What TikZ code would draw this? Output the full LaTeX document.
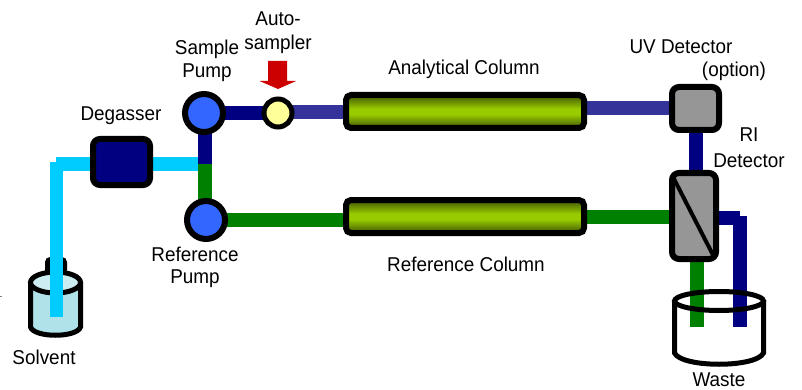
\documentclass[tikz,border=0pt]{standalone}
\usepackage{fontspec}
\setmainfont[FakeStretch=0.945]{Liberation Sans}
\usetikzlibrary{backgrounds}
\pgfdeclarelayer{bottle}
\pgfsetlayers{bottle,background,main}
\definecolor{cyanpipe}{HTML}{00CCFF}
\definecolor{navypipe}{HTML}{000080}
\definecolor{greenpipe}{HTML}{008000}
\definecolor{indigopipe}{HTML}{333399}
\definecolor{pumpblue}{HTML}{3366FF}
\definecolor{devgray}{HTML}{969696}
\definecolor{colgreen}{HTML}{99CC00}
\definecolor{coldark}{HTML}{3F5500}
\definecolor{redarrow}{HTML}{CC0000}
\definecolor{liquid}{HTML}{B0E2EA}
\definecolor{liquidtop}{HTML}{CCEEF3}
\definecolor{samplecol}{HTML}{FFFF99}
\pgfdeclareverticalshading{colshade}{100bp}{color(0bp)=(coldark); color(25bp)=(coldark); color(46bp)=(colgreen); color(54bp)=(colgreen); color(75bp)=(coldark); color(100bp)=(coldark)}
\tikzset{
  lbl/.style={font=\fontsize{20}{20}\selectfont,inner sep=0pt,text=black,yshift=-1pt},
  pipe/.style={line width=14pt},
  devbox/.style={draw=black,line width=6pt,rounded corners=7pt,inner sep=0pt},
  pumpnode/.style={circle,draw=black,line width=6pt,fill=pumpblue,minimum size=38pt,inner sep=0pt},
  columnbox/.style={draw=black,line width=6pt,rounded corners=5pt,inner sep=0pt,minimum width=238pt,minimum height=33pt,
     shading=colshade},
  rim/.style={draw=black,line width=5pt}
}
\begin{document}
\begin{tikzpicture}[x=1pt,y=-1pt]
\useasboundingbox (0,0) rectangle (802,390);
% devices
\node[devbox,fill=navypipe,minimum width=57pt,minimum height=46pt] (degasser) at (121.5,162) {};
\node[pumpnode] (spump) at (204,113) {};
\node[pumpnode] (rpump) at (206,220) {};
\node[circle,draw=black,line width=5pt,fill=samplecol,minimum size=28pt,inner sep=0pt] (auto) at (278,113) {};
\node[columnbox] (acol) at (465,111.5) {};
\node[columnbox] (rcol) at (465,216.5) {};
\node[devbox,fill=devgray,minimum width=47pt,minimum height=43pt] (uv) at (695.5,108.5) {};
\node[devbox,fill=devgray,minimum width=44pt,minimum height=86pt] (ri) at (694,216) {};
\draw[line width=4pt,line cap=round] (673,177) -- (713,255);
% junctions, bends and free ends
\coordinate (junction) at (205,164);
\coordinate (bendh) at (56,164);
\coordinate (bendv) at (56.5,162);
\coordinate (solventend) at (56.5,317);
\coordinate (wasteg) at (697,327);
\coordinate (wasten) at (740,327);
\coordinate (bendo) at (747,218);
\coordinate (bendw) at (740,216);
\coordinate (autoin) at (278,113.5);
\coordinate (autoout) at (278,112);
% pipes behind the devices
\begin{pgfonlayer}{background}
  \draw[pipe,cyanpipe] (bendh) -- (junction);
  \draw[pipe,cyanpipe,line width=13pt] (bendv) -- (solventend);
  \draw[pipe,navypipe] (spump.center |- autoin) -- (autoin);
  \draw[pipe,indigopipe] (autoout) -- (acol.center |- autoout);
  \draw[pipe,indigopipe] (acol.center |- uv.center) -- (uv.center);
  \draw[pipe,navypipe] (junction |- spump.center) -- (junction);
  \draw[pipe,greenpipe] (junction) -- (junction |- rpump.center);
  \draw[pipe,greenpipe] (rpump.center) -- (rcol.center |- rpump.center);
  \draw[pipe,greenpipe] (rcol.center) -- (ri.center |- rcol.center);
  \draw[pipe,navypipe] (uv.center) -- (uv.center |- ri.center);
  \draw[pipe,greenpipe] (wasteg |- ri.center) -- (wasteg);
  \draw[pipe,navypipe] (ri.center |- bendo) -- (bendo -| wasten);
  \draw[pipe,navypipe] (bendw) -- (wasten);
\end{pgfonlayer}
% solvent bottle, behind the pipe
\begin{pgfonlayer}{bottle}
  \fill[black,rounded corners=5pt] (45,257) rectangle (67,275);
  \draw[rim,fill=liquid]
    (30.5,283) -- (30.5,327) .. controls (34,338) and (77,338) .. (80.5,327) -- (80.5,283)
    .. controls (77,272) and (34,272) .. (30.5,283) -- cycle;
  \draw[rim,fill=liquidtop] (55.5,282.5) ellipse [x radius=25,y radius=10.5];
\end{pgfonlayer}
% waste vessel, over the pipes
\draw[rim] (674.5,300) -- (674.5,353) .. controls (682,368) and (756,368) .. (763.5,353) -- (763.5,300);
\draw[rim] (719,301) ellipse [x radius=44.5,y radius=9.5];
\draw[line width=.7pt,gray] (0,296) -- (1.5,296);
% red arrow
\path[fill=redarrow] (268,61) -- (287,61) -- (287,81) -- (296,81) -- (278,89) -- (259.5,81) -- (268,81) -- cycle;
% labels
\node[lbl] (l1) at (121,115) {Degasser};
\node[lbl] (l2) at (207,48) {Sample};
\node[lbl] (l3) at (207,72) {Pump};
\node[lbl] (l4) at (278,18) {Auto-};
\node[lbl] (l5) at (278,43) {sampler};
\node[lbl] (l6) at (464,68) {Analytical Column};
\node[lbl] (l7) at (681,46) {UV Detector};
\node[lbl] (l8) at (734,70) {(option)};
\node[lbl] (l9) at (749,134) {RI};
\node[lbl] (l10) at (749,160) {Detector};
\node[lbl] (l11) at (466,263) {Reference Column};
\node[lbl] (l12) at (195,253) {Reference};
\node[lbl] (l13) at (195,278) {Pump};
\node[lbl] (l14) at (44,356) {Solvent};
\node[lbl] (l15) at (719,378.5) {Waste};
\end{tikzpicture}
\end{document}
